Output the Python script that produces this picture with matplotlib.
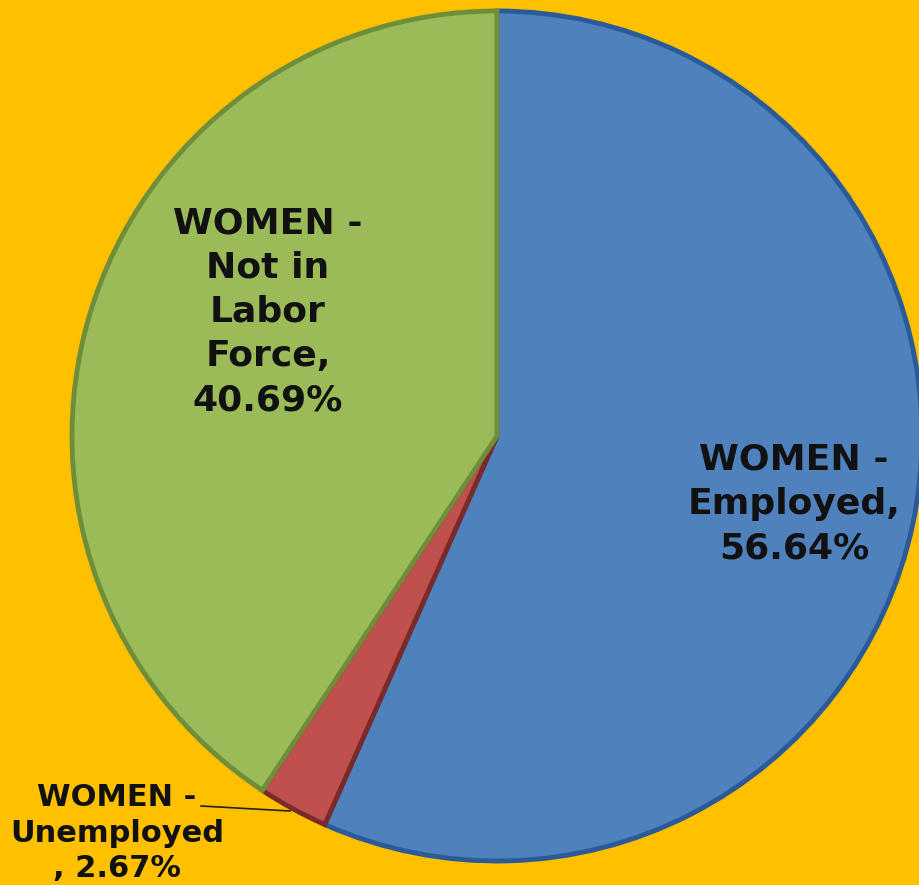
import matplotlib
matplotlib.use("Agg")
import matplotlib.pyplot as plt

categories = ["WOMEN - Employed", "WOMEN - Unemployed", "WOMEN - Not in Labor Force"]
values = [56.64, 2.67, 40.69]
colors = ["#4F81BD", "#C0504D", "#9BBB59"]
edge_colors = ["#2A5A9A", "#7A2A28", "#6E8E3A"]
bg = "#FFC000"

W, H = 919, 885
fig = plt.figure(figsize=(W / 100, H / 100), dpi=100)
fig.patch.set_facecolor(bg)
ax = fig.add_axes([0, 0, 1, 1])

cx, cy, r = 497, H - 436, 425
wedges, _ = ax.pie(values, colors=colors, startangle=90, counterclock=False,
                   center=(cx, cy), radius=r, frame=True,
                   wedgeprops=dict(linewidth=3.5))
for w, ec in zip(wedges, edge_colors):
    w.set_edgecolor(ec)
    w.set_joinstyle("miter")
ax.set_xlim(0, W)
ax.set_ylim(0, H)
ax.set_aspect("equal")
ax.axis("off")

font = dict(family="DejaVu Sans", weight="bold", color="#111111",
            ha="center", va="center")

ax.text(268, H - 312, "WOMEN -\nNot in\nLabor\nForce,\n%.2f%%" % values[2],
        fontsize=26, linespacing=1.38, **font)
ax.text(794, H - 504, "WOMEN -\nEmployed,\n%.2f%%" % values[0],
        fontsize=26, linespacing=1.38, **font)
ax.text(117, H - 833, "WOMEN -\nUnemployed\n, %.2f%%" % values[1],
        fontsize=22, linespacing=1.28, **font)
ax.plot([201, 290], [H - 806, H - 811], color="#222222", lw=1.2)

fig.savefig("out.png", dpi=100, facecolor=bg)
